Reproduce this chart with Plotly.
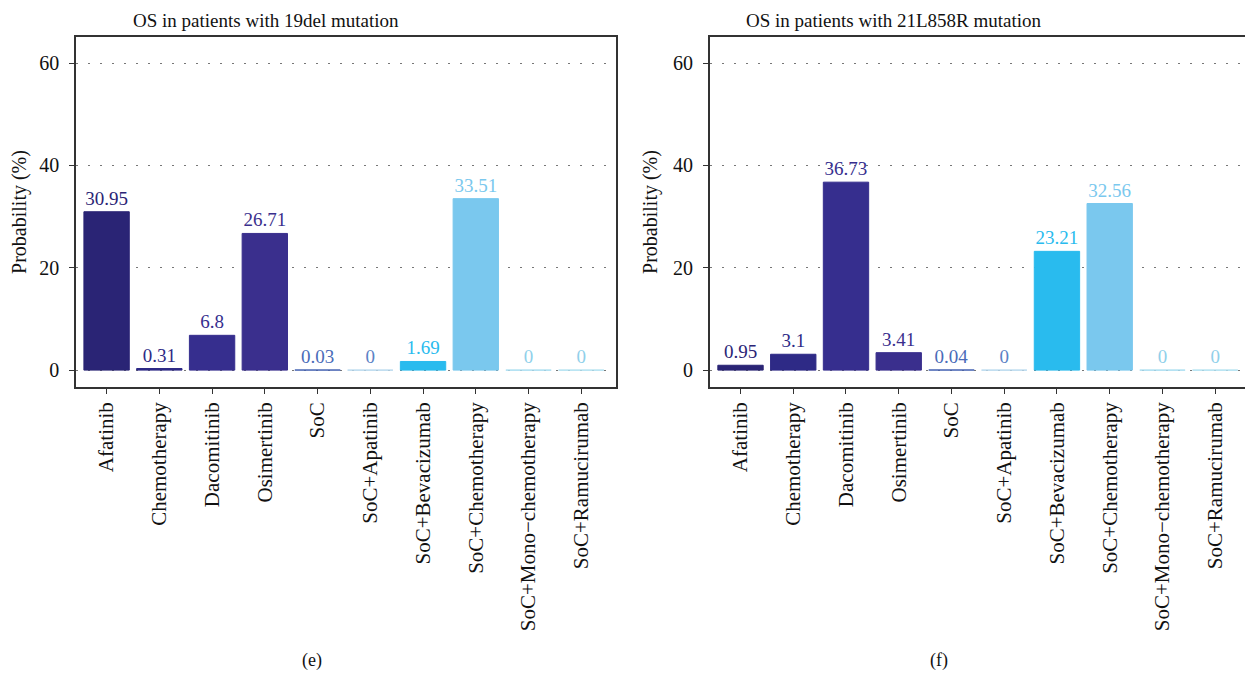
import plotly.graph_objects as go
from plotly.subplots import make_subplots

categories = ["Afatinib", "Chemotherapy", "Dacomitinib", "Osimertinib", "SoC",
              "SoC+Apatinib", "SoC+Bevacizumab", "SoC+Chemotherapy",
              "SoC+Mono\u2212chemotherapy", "SoC+Ramucirumab"]
values_19del = [30.95, 0.31, 6.8, 26.71, 0.03, 0, 1.69, 33.51, 0, 0]
values_21l858r = [0.95, 3.1, 36.73, 3.41, 0.04, 0, 23.21, 32.56, 0, 0]
titles = ["OS in patients with 19del mutation", "OS in patients with 21L858R mutation"]
panel_labels = ["(e)", "(f)"]
y_ticks = [0, 20, 40, 60]

bar_colors = ["#2A2475", "#2E2A86", "#362E8E", "#3A2F8D", "#4563B3",
              "#B8D8EE", "#29BBEE", "#7AC8EE", "#A8DDF0", "#B0E0F0"]
text_colors = ["#2A2475", "#2E2A86", "#362E8E", "#3A2F8D", "#4A6BB8",
               "#5B82C5", "#29BBEE", "#7AC8EE", "#90D0EA", "#90D0EA"]

FONT = "Liberation Serif"

# page has an 8px body margin: figure is placed at (8, 8)
W, H = 1245, 667
ML, MR, MT, MB = 68, 1, 29, 288
OFF = 8

fig = make_subplots(rows=1, cols=2)

for i, vals in enumerate([values_19del, values_21l858r]):
    fig.add_trace(go.Bar(
        x=categories, y=vals,
        marker=dict(color=bar_colors, line=dict(color=bar_colors, width=1)),
        width=0.86,
        text=[f"{v:g}" for v in vals],
        textposition="outside",
        textfont=dict(family=FONT, size=19, color=text_colors),
        cliponaxis=False,
        showlegend=False,
    ), row=1, col=i + 1)

plot_w = W - ML - MR
left0 = OFF + ML
d1 = 541 / plot_w
d2s = (711 - left0) / plot_w

axis_common = dict(showline=True, linecolor="#333", linewidth=1.6, mirror=True,
                   ticks="outside", ticklen=5, tickcolor="#333")

fig.update_xaxes(**axis_common, tickangle=-90, range=[-0.58, 9.66],
                 showgrid=False, tickfont=dict(family=FONT, size=21, color="#111"))
fig.update_yaxes(**axis_common, range=[-3.3, 65.1], tickvals=y_ticks,
                 tickfont=dict(family=FONT, size=20, color="#111"),
                 ticklabelstandoff=6,
                 showgrid=True, gridcolor="#777", griddash="2px,10px", gridwidth=1.2,
                 zeroline=False,
                 title=dict(text="Probability (%)", font=dict(family=FONT, size=20, color="#111"),
                            standoff=10))
fig.update_layout(xaxis=dict(domain=[0, d1]), xaxis2=dict(domain=[d2s, 1]))

title_px = [266, 895]
label_px = [312, 940]
for i in range(2):
    tx = (title_px[i] - left0) / plot_w
    lx = (label_px[i] - left0) / plot_w
    fig.add_annotation(text=titles[i], x=tx, y=1, xref="paper", yref="paper",
                       xanchor="center", yanchor="bottom", yshift=4, showarrow=False,
                       font=dict(family=FONT, size=19, color="#111"))
    fig.add_annotation(text=panel_labels[i], x=lx, y=0, xref="paper", yref="paper",
                       xanchor="center", yanchor="middle", yshift=-273, showarrow=False,
                       font=dict(family=FONT, size=18, color="#111"))

fig.update_layout(width=W, height=H, margin=dict(l=ML, r=MR, t=MT, b=MB),
                  plot_bgcolor="white", paper_bgcolor="white",
                  font=dict(family=FONT))

fig.write_html("out.html")
